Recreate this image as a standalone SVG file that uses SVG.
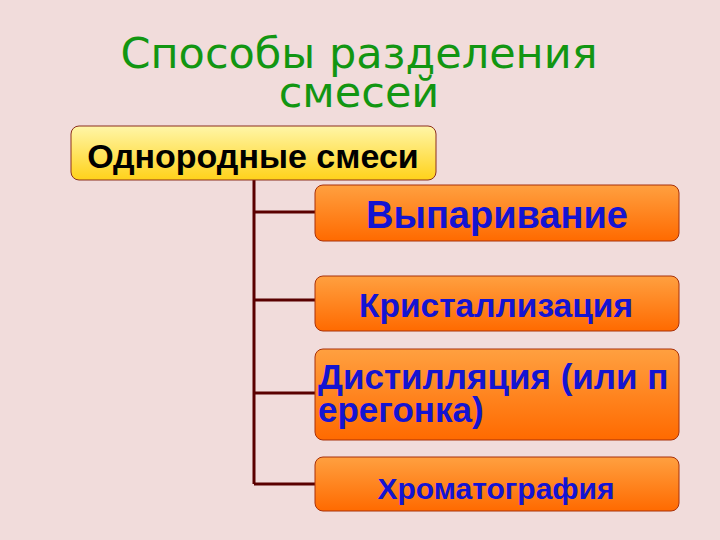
<svg xmlns="http://www.w3.org/2000/svg" width="720" height="540" viewBox="0 0 720 540">
<defs>
<linearGradient id="gy" x1="0" y1="0" x2="0" y2="1">
<stop offset="0" stop-color="#FFF6A8"/>
<stop offset="1" stop-color="#FFD21A"/>
</linearGradient>
<linearGradient id="go" x1="0" y1="0" x2="0" y2="1">
<stop offset="0" stop-color="#FFA040"/>
<stop offset="1" stop-color="#FF6A00"/>
</linearGradient>
<style>
.title{font-family:"DejaVu Sans",sans-serif;font-size:43px;fill:#129612;text-anchor:middle}
.root{fill:url(#gy);stroke:#8B2E1E;stroke-width:1}
.box{fill:url(#go);stroke:#A8300A;stroke-width:1}
.rt{font-family:"Liberation Sans",Arial,sans-serif;font-weight:bold;font-size:34px;fill:#000;text-anchor:middle}
.bt{font-family:"Liberation Sans",Arial,sans-serif;font-weight:bold;fill:#1414D2}
.c{fill:none;stroke:#5A0000;stroke-width:3}
</style>
</defs>
<rect width="720" height="540" fill="#F1DCDB"/>
<text class="title" x="359" y="68">Способы разделения</text>
<text class="title" x="359" y="107">смесей</text>
<g id="connectors">
<path class="c" d="M254 180 V484 M254 212 H316 M254 300 H316 M254 393 H316 M254 484 H316"/>
</g>
<g id="root">
<rect class="root" x="71" y="126" width="365" height="54" rx="8"/>
<text class="rt" x="253" y="168">Однородные смеси</text>
</g>
<g id="n1">
<rect class="box" x="315" y="185" width="364" height="56" rx="8"/>
<text class="bt" x="497" y="228" font-size="38" text-anchor="middle">Выпаривание</text>
</g>
<g id="n2">
<rect class="box" x="315" y="276" width="364" height="55" rx="8"/>
<text class="bt" x="496" y="317" font-size="33.5" text-anchor="middle">Кристаллизация</text>
</g>
<g id="n3">
<rect class="box" x="315" y="349" width="364" height="91" rx="8"/>
<text class="bt" x="318" y="389" font-size="35">Дистилляция (или п</text>
<text class="bt" x="318" y="422" font-size="35">ерегонка)</text>
</g>
<g id="n4">
<rect class="box" x="315" y="457" width="364" height="54" rx="8"/>
<text class="bt" x="496" y="499" font-size="30" text-anchor="middle">Хроматография</text>
</g>
</svg>
